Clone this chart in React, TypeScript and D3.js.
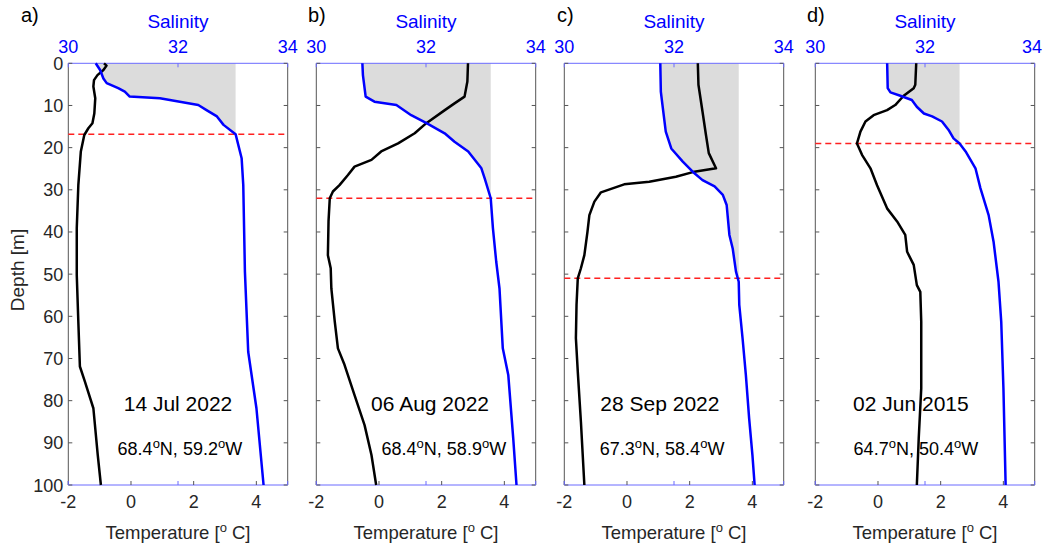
import React from 'react';
import * as d3 from 'd3';

// profile values (depth in m, temperature in degC, salinity)
const tDepthA = [0, 0.55, 1.6, 2.8, 4.0, 5.5, 8.3, 11.9, 14.2, 15.4, 17.0, 20.9, 28.9, 39.1, 50.2, 61.3, 71.9, 75.5, 81.8, 92.9, 100];
const tempA = [-0.86, -0.78, -0.88, -1.07, -1.18, -1.2, -1.14, -1.17, -1.23, -1.36, -1.49, -1.6, -1.68, -1.73, -1.73, -1.68, -1.63, -1.47, -1.2, -1.06, -0.96];
const sDepthA = [0, 1.6, 3.6, 4.7, 5.9, 6.7, 7.9, 8.3, 9.9, 11.1, 12.6, 14.6, 16.8, 22.5, 28.9, 49.4, 68.4, 81.8, 100];
const salA = [30.5, 30.58, 30.64, 30.7, 30.91, 31.03, 31.12, 31.67, 32.37, 32.52, 32.71, 32.83, 33.05, 33.16, 33.19, 33.22, 33.28, 33.43, 33.56];

const tDepthB = [0, 4.3, 7.9, 9.5, 11.1, 14.2, 16.6, 19.0, 20.9, 22.9, 24.5, 26.5, 28.9, 30.4, 32.0, 37.5, 45.5, 48.6, 53.4, 61.3, 67.6, 71.5, 78.7, 85.8, 92.9, 100];
const tempB = [2.84, 2.82, 2.73, 2.41, 2.1, 1.51, 1.14, 0.61, 0.07, -0.24, -0.78, -0.99, -1.26, -1.47, -1.57, -1.61, -1.63, -1.54, -1.52, -1.41, -1.31, -1.1, -0.78, -0.46, -0.24, -0.09];
const sDepthB = [0, 2.8, 7.9, 9.1, 9.9, 12.3, 14.2, 16.6, 18.6, 20.9, 24.9, 27.3, 32.0, 39.1, 47.0, 53.4, 67.6, 73.9, 88.9, 100];
const salB = [30.84, 30.85, 30.9, 31.06, 31.46, 31.73, 32.01, 32.34, 32.52, 32.77, 33.01, 33.07, 33.18, 33.22, 33.28, 33.34, 33.4, 33.5, 33.59, 33.65];

const tDepthC = [0, 5.1, 11.5, 17.0, 21.3, 24.9, 25.8, 26.9, 28.1, 28.7, 30.6, 32.8, 36.0, 39.9, 45.5, 48.6, 51.0, 57.3, 65.2, 73.1, 85.0, 100];
const tempC = [2.26, 2.28, 2.41, 2.52, 2.61, 2.84, 2.1, 1.56, 0.71, -0.09, -0.83, -1.04, -1.2, -1.26, -1.36, -1.47, -1.57, -1.61, -1.63, -1.57, -1.47, -1.36];
const sDepthC = [0, 6.7, 9.9, 16.2, 20.2, 23.3, 25.7, 27.7, 29.2, 31.2, 33.6, 40.7, 43.9, 49.4, 51.8, 57.3, 65.2, 73.9, 84.2, 92.9, 100];
const salC = [31.75, 31.76, 31.79, 31.85, 31.95, 32.16, 32.34, 32.52, 32.74, 32.89, 32.96, 33.01, 33.07, 33.13, 33.18, 33.19, 33.25, 33.31, 33.37, 33.43, 33.47];

const tDepthD = [0, 5.1, 5.9, 7.7, 9.9, 11.1, 12.3, 13.8, 16.2, 19.0, 21.7, 24.9, 28.9, 34.4, 37.5, 40.7, 44.7, 47.8, 52.6, 54.2, 61.3, 77.1, 88.9, 100];
const tempD = [1.22, 1.19, 1.14, 0.82, 0.55, 0.29, -0.14, -0.4, -0.56, -0.67, -0.51, -0.24, -0.03, 0.29, 0.61, 0.87, 0.93, 1.14, 1.24, 1.35, 1.38, 1.38, 1.3, 1.24];
const sDepthD = [0, 5.9, 6.9, 7.7, 8.7, 10.3, 11.9, 12.6, 13.8, 15.8, 17.8, 19.0, 20.9, 24.9, 29.6, 36.0, 42.3, 51.8, 61.3, 77.1, 100];
const salD = [31.31, 31.32, 31.37, 31.55, 31.76, 31.85, 31.98, 32.13, 32.31, 32.43, 32.52, 32.63, 32.74, 32.92, 33.01, 33.16, 33.25, 33.34, 33.39, 33.43, 33.47];

const letters = ['a)', 'b)', 'c)', 'd)'];
const dates = ['14 Jul 2022', '06 Aug 2022', '28 Sep 2022', '02 Jun 2015'];
const lats = ['68.4', '68.4', '67.3', '64.7'];
const lons = ['59.2', '58.9', '58.4', '50.4'];
const mixedDepth = [16.8, 32.0, 51.0, 19.0];
const mixedSal = [33.05, 33.18, 33.18, 32.63];

const depthTicks = d3.range(0, 101, 10);
const tempTicks = [-2, 0, 2, 4];
const salTicks = [30, 32, 34];

const tDepths = [tDepthA, tDepthB, tDepthC, tDepthD];
const temps = [tempA, tempB, tempC, tempD];
const sDepths = [sDepthA, sDepthB, sDepthC, sDepthD];
const sals = [salA, salB, salC, salD];

const W = 1043;
const lefts = [68.3, 316.3, 564.3, 815.3];
const letterX = [21, 308, 557, 807];
const pw = 219.4;
const top = 63.3;
const bottom = 485;
// where the text sits, in temperature units
const dateAt = [1.5, 1.63, 1.05, 1.05];
const coordAt = [1.56, 2.07, 1.12, 1.21];

const font = '"Liberation Sans", Arial, sans-serif';
const ink = '#262626';
const blue = '#0000ff';

function Panel({ i }: { i: number }) {
  const x0 = lefts[i];
  const y = d3.scaleLinear().domain([0, 100]).range([top, bottom]);
  const xt = d3.scaleLinear().domain([-2, 5]).range([x0, x0 + pw]);
  const xs = d3.scaleLinear().domain([30, 34]).range([x0, x0 + pw]);

  const tPts = tDepths[i].map((d, k) => [temps[i][k], d]);
  const sPts = sDepths[i].map((d, k) => [sals[i][k], d]);

  const tLine = d3.line<number[]>().x(p => xt(p[0])).y(p => y(p[1]));
  const sLine = d3.line<number[]>().x(p => xs(p[0])).y(p => y(p[1]));

  const mld = mixedDepth[i];
  const edge = mixedSal[i];
  const fillPts = sPts.filter(p => p[1] < mld).concat([[edge, mld]]);
  const area = d3.area<number[]>()
    .x0(p => xs(p[0]))
    .x1(() => xs(edge))
    .y(p => y(p[1]));

  const cx = (x0 + pw / 2);

  return (
    <g>
      <path d={area(fillPts) || ''} fill="#dcdcdc" />
      {/* box */}
      <line x1={x0} x2={x0} y1={top} y2={bottom} stroke="#555" strokeWidth={1} />
      <line x1={x0 + pw} x2={x0 + pw} y1={top} y2={bottom} stroke="#555" strokeWidth={1} />
      <line x1={x0} x2={x0 + pw} y1={top} y2={top} stroke="#6b6bff" strokeWidth={1} />
      <line x1={x0} x2={x0 + pw} y1={bottom} y2={bottom} stroke="#6b6bff" strokeWidth={1} />
      {depthTicks.map(d => (
        <g key={d}>
          <line x1={x0} x2={x0 + 4} y1={y(d)} y2={y(d)} stroke="#555" />
          <line x1={x0 + pw - 4} x2={x0 + pw} y1={y(d)} y2={y(d)} stroke="#555" />
        </g>
      ))}
      {tempTicks.map(t => (
        <line key={t} x1={xt(t)} x2={xt(t)} y1={bottom} y2={bottom - 4} stroke="#555" />
      ))}
      {salTicks.map(s => (
        <g key={s}>
          <line x1={xs(s)} x2={xs(s)} y1={top} y2={top + 4} stroke="#6b6bff" />
          <line x1={xs(s)} x2={xs(s)} y1={bottom} y2={bottom - 4} stroke="#6b6bff" />
        </g>
      ))}
      <line x1={x0} x2={x0 + pw} y1={y(mld)} y2={y(mld)} stroke="#ff2020" strokeWidth={1.5} strokeDasharray="6,4" />
      <path d={tLine(tPts) || ''} fill="none" stroke="#000" strokeWidth={2.5} strokeLinejoin="round" />
      <path d={sLine(sPts) || ''} fill="none" stroke={blue} strokeWidth={2.5} strokeLinejoin="round" />

      {/* labels */}
      <text x={letterX[i]} y={22} fontSize={20} fill="#000">{letters[i]}</text>
      <text x={cx} y={28} fontSize={19} fill={blue} textAnchor="middle">Salinity</text>
      {salTicks.map(s => {
        const sx = xs(s);
        const clipped = sx + 11 > W;
        return (
          <text key={s} x={clipped ? W - 1 : sx} y={53} fontSize={18} fill={blue}
            textAnchor={clipped ? 'end' : 'middle'}>{s}</text>
        );
      })}
      {tempTicks.map(t => (
        <text key={t} x={xt(t)} y={508} fontSize={18} fill={ink} textAnchor="middle">{t}</text>
      ))}
      <text x={cx} y={539} fontSize={18.5} fill={ink} textAnchor="middle">
        Temperature [<tspan fontSize={13} dy={-7}>o</tspan><tspan dy={7}> C]</tspan>
      </text>
      {i === 0 && depthTicks.map(d => (
        <text key={d} x={x0 - 5} y={y(d) + 6.5} fontSize={18} fill={ink} textAnchor="end">{d}</text>
      ))}
      <text x={xt(dateAt[i])} y={411} fontSize={21} fill="#000" textAnchor="middle">{dates[i]}</text>
      <text x={xt(coordAt[i])} y={455} fontSize={18} fill="#000" textAnchor="middle">
        {lats[i]}<tspan fontSize={13} dy={-7}>o</tspan><tspan dy={7}>N, {lons[i]}</tspan>
        <tspan fontSize={13} dy={-7}>o</tspan><tspan dy={7}>W</tspan>
      </text>
    </g>
  );
}

export default function App() {
  return (
    <svg width={W} height={548} style={{ position: 'absolute', left: 0, top: 0, background: '#fff' }}
      fontFamily={font}>
      <rect width={W} height={548} fill="#fff" />
      {letters.map((_, i) => <Panel key={i} i={i} />)}
      <text transform="translate(24,270) rotate(-90)" fontSize={19} fill={ink} textAnchor="middle">Depth [m]</text>
    </svg>
  );
}
